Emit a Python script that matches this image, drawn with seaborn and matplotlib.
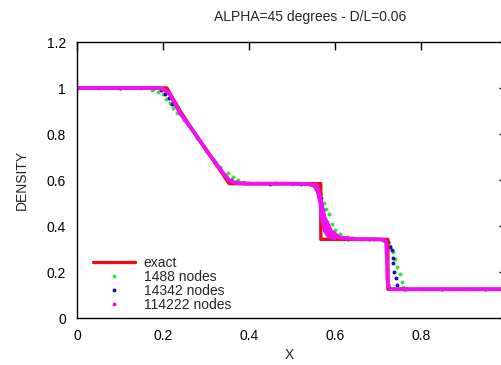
import numpy as np
import pandas as pd
import matplotlib
matplotlib.use("Agg")
import matplotlib.pyplot as plt
from matplotlib.lines import Line2D
from matplotlib.ticker import FuncFormatter
import seaborn as sns

# exact solution
exact_x = [0.0, 0.209, 0.24, 0.275, 0.31, 0.354, 0.567, 0.567, 0.723, 0.723, 1.0]
exact_y = [1.0, 1.0, 0.90, 0.80, 0.705, 0.584, 0.584, 0.342, 0.342, 0.125, 0.125]

# 1488 nodes
g_x = [0.0, 0.05, 0.10, 0.15, 0.174, 0.189, 0.201, 0.208, 0.216, 0.223, 0.232,
       0.25, 0.28, 0.30, 0.317, 0.333, 0.352, 0.363, 0.375, 0.387, 0.398, 0.42,
       0.46, 0.50, 0.54, 0.555, 0.562, 0.568, 0.575, 0.580, 0.585, 0.592, 0.600,
       0.612, 0.627, 0.643, 0.66, 0.69, 0.712, 0.722, 0.727, 0.734, 0.740, 0.745,
       0.751, 0.755, 0.759, 0.765, 0.80, 0.85, 0.90, 0.95]
g_y = [1.0, 1.0, 1.0, 0.998, 0.991, 0.984, 0.973, 0.954, 0.934, 0.915, 0.89,
       0.862, 0.782, 0.728, 0.69, 0.655, 0.632, 0.614, 0.601, 0.593, 0.589, 0.586,
       0.585, 0.584, 0.583, 0.578, 0.565, 0.54, 0.50, 0.475, 0.453, 0.41, 0.381,
       0.367, 0.352, 0.346, 0.343, 0.342, 0.340, 0.336, 0.315, 0.287, 0.255, 0.222,
       0.190, 0.155, 0.135, 0.128, 0.125, 0.125, 0.125, 0.125]

# 14342 nodes
b_x = [0.0, 0.10, 0.18, 0.195, 0.205, 0.213, 0.222, 0.24, 0.28, 0.32, 0.345,
       0.358, 0.37, 0.39, 0.45, 0.52, 0.55, 0.56, 0.567, 0.572, 0.578, 0.585,
       0.595, 0.61, 0.63, 0.68, 0.715, 0.724, 0.729, 0.732, 0.734, 0.736, 0.738,
       0.741, 0.745, 0.76, 0.85, 0.95]
b_y = [1.0, 1.0, 0.998, 0.99, 0.975, 0.955, 0.93, 0.89, 0.787, 0.68, 0.615,
       0.598, 0.590, 0.586, 0.584, 0.584, 0.580, 0.57, 0.52, 0.47, 0.42, 0.385,
       0.36, 0.348, 0.344, 0.342, 0.341, 0.33, 0.31, 0.294, 0.263, 0.237, 0.200,
       0.172, 0.143, 0.127, 0.125, 0.125]

# 114222 nodes (dense band)
m_x = [0.0, 0.19, 0.205, 0.215, 0.24, 0.275, 0.31, 0.34, 0.355, 0.37, 0.40,
       0.50, 0.54, 0.552, 0.56, 0.566, 0.570, 0.576, 0.585, 0.60, 0.59, 0.578,
       0.570, 0.562, 0.556, 0.566, 0.575, 0.59, 0.61, 0.65, 0.70, 0.714, 0.719,
       0.721, 0.722, 0.725, 0.728, 0.733, 0.75, 1.0]
m_y = [1.0, 1.0, 0.99, 0.975, 0.89, 0.80, 0.705, 0.63, 0.597, 0.587, 0.584,
       0.584, 0.582, 0.575, 0.55, 0.50, 0.43, 0.38, 0.355, 0.347, 0.36, 0.40,
       0.48, 0.55, 0.58, 0.52, 0.44, 0.38, 0.35, 0.343, 0.342, 0.340, 0.33,
       0.25, 0.17, 0.135, 0.127, 0.125, 0.125, 0.125]

labels = ["exact", "1488 nodes", "14342 nodes", "114222 nodes"]
c_exact, c_g, c_b, c_m = "#e81010", "#3ce03c", "#1010b4", "#f010f0"

sns.set_style("white")
plt.rcParams["font.family"] = ["Liberation Sans", "DejaVu Sans"]

fig = plt.figure(figsize=(5.02, 3.65), dpi=100)
ax = fig.add_axes([77 / 502, 47 / 365, 430 / 502, 276 / 365])

exact = pd.DataFrame({"x": exact_x, "y": exact_y})
sns.lineplot(data=exact, x="x", y="y", sort=False, estimator=None,
             color=c_exact, lw=2.4, ax=ax)
sns.scatterplot(x=g_x, y=g_y, color=c_g, marker="o", s=8, linewidth=0, ax=ax)
sns.scatterplot(x=b_x, y=b_y, color=c_b, marker="o", s=8, linewidth=0, ax=ax)
mag = pd.DataFrame({"x": m_x, "y": m_y})
sns.lineplot(data=mag, x="x", y="y", sort=False, estimator=None,
             color=c_m, lw=2.8, ax=ax)

ax.set_xlim(0, 1)
ax.set_ylim(0, 1.2)
ax.set_xticks([0, 0.2, 0.4, 0.6, 0.8])
ax.set_yticks([0, 0.2, 0.4, 0.6, 0.8, 1.0, 1.2])
fmt = FuncFormatter(lambda v, p: f"{v:g}")
ax.xaxis.set_major_formatter(fmt)
ax.yaxis.set_major_formatter(fmt)
ax.tick_params(direction="in", length=6, width=1, top=True, right=True,
               labelsize=10, pad=8, colors="black")
for s in ax.spines.values():
    s.set_color("black")
    s.set_linewidth(1)
ax.set_xlabel("")
ax.set_ylabel("")

fig.text(310 / 502, 1 - 17 / 365, "ALPHA=45 degrees - D/L=0.06", ha="center", va="center", fontsize=10)
fig.text(289 / 502, 1 - 355 / 365, "X", ha="center", va="center", fontsize=10)
fig.text(22 / 502, 1 - 180 / 365, "DENSITY", ha="center", va="center", rotation=90, fontsize=10)

handles = [
    Line2D([], [], color=c_exact, lw=2.4),
    Line2D([], [], color=c_g, marker="o", ms=1.8, lw=0),
    Line2D([], [], color=c_b, marker="o", ms=1.8, lw=0),
    Line2D([], [], color=c_m, marker="o", ms=1.8, lw=0),
]
fig.legend(handles, labels, loc="lower left", bbox_to_anchor=(93 / 502, 1 - 312 / 365),
           frameon=False, fontsize=10, handlelength=3, handletextpad=0.65,
           labelspacing=0.0, borderpad=0, borderaxespad=0)

fig.savefig("out.png", dpi=100)
